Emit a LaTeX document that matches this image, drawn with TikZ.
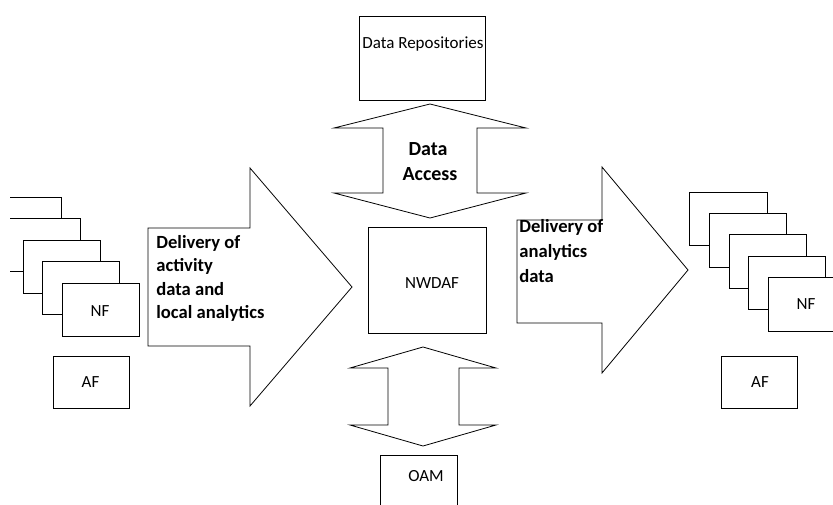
\documentclass[tikz,border=0pt]{standalone}
\usepackage{fontspec}
\setmainfont{Carlito}
\begin{document}
\begin{tikzpicture}[x=1pt,y=-1pt,
  line width=0.8pt,
  box/.style={draw=black,fill=white},
  lbl/.style={font=\fontsize{17}{20}\selectfont,inner sep=0pt,anchor=base},
  arrowtxt/.style={font=\fontsize{18.6}{22}\selectfont\bfseries,inner sep=0pt,anchor=base west},
  bigarrow/.style={draw=black,fill=white,line join=miter}]
\useasboundingbox (0,0) rectangle (833,504);
\clip (0,0) rectangle (833,504);

% Data repositories and data access
\node[box,minimum width=126pt,minimum height=84pt,inner sep=0pt] (repo) at (422,58) {};
\node[lbl] (repotxt) at (423,48) {Data Repositories};
\draw[bigarrow] (430,104) -- (526,128) -- (477,128) -- (477,193) -- (526,193)
  -- (430,218) -- (334,193) -- (383,193) -- (383,128) -- (334,128) -- cycle;
\node[arrowtxt,font=\fontsize{20}{24}\selectfont\bfseries,anchor=base] (da1) at (428,155) {Data};
\node[arrowtxt,font=\fontsize{20}{24}\selectfont\bfseries,anchor=base] (da2) at (430,180) {Access};

% NWDAF
\node[box,minimum width=118pt,minimum height=106pt,inner sep=0pt] (nwdaf) at (427,280) {};
\node[lbl] (nwdaftxt) at (432,288) {NWDAF};

% OAM access
\draw[bigarrow] (423,347) -- (496,368) -- (459,368) -- (459,425) -- (496,425)
  -- (423,446) -- (350,425) -- (388,425) -- (388,368) -- (350,368) -- cycle;
\node[box,minimum width=77pt,minimum height=52pt,inner sep=0pt] (oam) at (418.5,481) {};
\node[lbl] (oamtxt) at (426,481) {OAM};

% Delivery towards NWDAF
\draw[bigarrow] (148,228) -- (250,228) -- (250,168) -- (352,287) -- (250,406)
  -- (250,346) -- (148,346) -- cycle;
\node[arrowtxt] (dl1) at (156,248) {Delivery of};
\node[arrowtxt] (dl2) at (156,271.5) {activity};
\node[arrowtxt] (dl3) at (156,295) {data and};
\node[arrowtxt] (dl4) at (156,318) {local analytics};

% Delivery from NWDAF
\draw[bigarrow] (517,220) -- (602,220) -- (602,167) -- (688,270) -- (602,373)
  -- (602,323) -- (517,323) -- cycle;
\node[arrowtxt] (dr1) at (519,232) {Delivery of};
\node[arrowtxt] (dr2) at (519,257) {analytics};
\node[arrowtxt] (dr3) at (519,282) {data};

% Left stack of network functions
\begin{scope}
\clip (10,0) rectangle (833,504);
\draw[box] (-16,197) rectangle (61,250);
\draw[box] (3.5,218.5) rectangle (80.5,271.5);
\draw[box] (23,240) rectangle (100,293);
\draw[box] (42.5,261.5) rectangle (119.5,314.5);
\end{scope}
\node[box,minimum width=77pt,minimum height=53pt,inner sep=0pt] (nfl) at (100.5,309.5) {};
\node[lbl] (nfltxt) at (100,316) {NF};
\node[box,minimum width=76pt,minimum height=52pt,inner sep=0pt] (afl) at (91,382) {};
\node[lbl] (afltxt) at (90.5,387) {AF};

% Right stack of network functions
\draw[box] (689,192) rectangle (767,245);
\draw[box] (709,213) rectangle (786,267);
\draw[box] (729,234) rectangle (806,288);
\draw[box] (748,256) rectangle (825,309);
\node[box,minimum width=77pt,minimum height=54pt,inner sep=0pt] (nfr) at (806.5,304) {};
\node[lbl] (nfrtxt) at (806,309) {NF};
\node[box,minimum width=76pt,minimum height=52pt,inner sep=0pt] (afr) at (759,382) {};
\node[lbl] (afrtxt) at (760,387) {AF};
\end{tikzpicture}
\end{document}
